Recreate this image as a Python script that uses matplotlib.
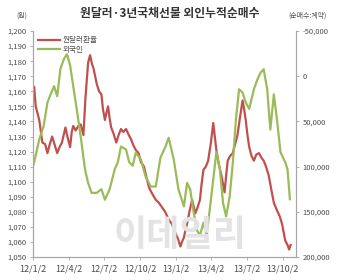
import pandas as pd
import matplotlib
matplotlib.use('Agg')
import matplotlib.pyplot as plt
import matplotlib.ticker as ticker

plt.rcParams['font.family'] = ['Noto Sans CJK KR', 'DejaVu Sans']

# Won/dollar exchange rate (left axis, won)
krw_dates = ['2012-01-02', '2012-01-05', '2012-01-09', '2012-01-13', '2012-01-18', '2012-01-26',
             '2012-02-02', '2012-02-08', '2012-02-14', '2012-02-20', '2012-02-27', '2012-03-04',
             '2012-03-10', '2012-03-16', '2012-03-25', '2012-03-30', '2012-04-06', '2012-04-10',
             '2012-04-14', '2012-04-20', '2012-04-27', '2012-05-03', '2012-05-10', '2012-05-15',
             '2012-05-22', '2012-05-27', '2012-06-01', '2012-06-04', '2012-06-09', '2012-06-13',
             '2012-06-19', '2012-06-25', '2012-06-29', '2012-07-04', '2012-07-08', '2012-07-12',
             '2012-07-16', '2012-07-20', '2012-07-26', '2012-08-02', '2012-08-08', '2012-08-14',
             '2012-08-20', '2012-08-27', '2012-09-03', '2012-09-09', '2012-09-15', '2012-09-21',
             '2012-09-28', '2012-10-04', '2012-10-12', '2012-10-18', '2012-10-25', '2012-11-02',
             '2012-11-11', '2012-11-19', '2012-11-27', '2012-12-05', '2012-12-14', '2012-12-22',
             '2012-12-31', '2013-01-07', '2013-01-13', '2013-01-17', '2013-01-22', '2013-01-26',
             '2013-01-30', '2013-02-05', '2013-02-12', '2013-02-20', '2013-02-26', '2013-03-04',
             '2013-03-08', '2013-03-13', '2013-03-19', '2013-03-25', '2013-04-01', '2013-04-07',
             '2013-04-11', '2013-04-15', '2013-04-21', '2013-04-28', '2013-05-06', '2013-05-10',
             '2013-05-14', '2013-05-20', '2013-05-27', '2013-06-03', '2013-06-08', '2013-06-14',
             '2013-06-21', '2013-06-25', '2013-06-29', '2013-07-04', '2013-07-08', '2013-07-14',
             '2013-07-20', '2013-07-26', '2013-08-02', '2013-08-08', '2013-08-14', '2013-08-20',
             '2013-08-27', '2013-09-03', '2013-09-09', '2013-09-17', '2013-09-24', '2013-09-30',
             '2013-10-08', '2013-10-14', '2013-10-18', '2013-10-22']
krw_values = [1160, 1163, 1150, 1146, 1141, 1126,
              1125, 1119, 1125, 1130, 1124, 1119,
              1123, 1126, 1136, 1130, 1123, 1133,
              1137, 1134, 1137, 1138, 1131, 1155,
              1179, 1184, 1178, 1176, 1170, 1165,
              1160, 1158, 1148, 1141, 1146, 1150,
              1142, 1136, 1132, 1126, 1131, 1135,
              1133, 1135, 1131, 1128, 1124, 1121,
              1119, 1113, 1110, 1103, 1096, 1092,
              1088, 1086, 1083, 1080, 1075, 1072,
              1066, 1062, 1057, 1060, 1063, 1068,
              1072, 1080, 1088, 1079, 1083, 1088,
              1098, 1108, 1110, 1114, 1126, 1139,
              1130, 1121, 1112, 1104, 1093, 1104,
              1114, 1117, 1119, 1126, 1131, 1142,
              1154, 1148, 1141, 1130, 1123, 1117,
              1114, 1118, 1119, 1116, 1114, 1110,
              1104, 1094, 1086, 1081, 1077, 1072,
              1061, 1058, 1055, 1058]

# Foreign cumulative net buying of 3yr bond futures (right axis, contracts)
frn_dates = ['2012-01-02', '2012-01-05', '2012-01-18', '2012-01-29', '2012-02-08', '2012-02-16',
             '2012-02-25', '2012-03-04', '2012-03-12', '2012-03-21', '2012-03-29', '2012-04-06',
             '2012-04-14', '2012-04-23', '2012-05-05', '2012-05-14', '2012-05-22', '2012-05-31',
             '2012-06-13', '2012-06-25', '2012-07-04', '2012-07-16', '2012-07-29', '2012-08-06',
             '2012-08-14', '2012-08-27', '2012-09-04', '2012-09-13', '2012-09-21', '2012-10-04',
             '2012-10-16', '2012-10-29', '2012-11-11', '2012-11-23', '2012-12-06', '2012-12-14',
             '2012-12-27', '2013-01-08', '2013-01-22', '2013-01-30', '2013-02-07', '2013-02-16',
             '2013-02-24', '2013-03-04', '2013-03-13', '2013-03-21', '2013-03-30', '2013-04-07',
             '2013-04-15', '2013-04-24', '2013-05-02', '2013-05-10', '2013-05-19', '2013-05-27',
             '2013-06-04', '2013-06-12', '2013-06-21', '2013-06-29', '2013-07-08', '2013-07-20',
             '2013-07-29', '2013-08-06', '2013-08-14', '2013-08-23', '2013-08-31', '2013-09-09',
             '2013-09-17', '2013-09-26', '2013-10-08', '2013-10-14', '2013-10-20']
frn_values = [100000, 95000, 70000, 55500, 29000, 20000,
              11000, 22000, -8000, -19000, -24500, -12000,
              11000, 36700, 73000, 103000, 118000, 129000,
              129000, 125000, 136600, 125000, 103000, 95000,
              77700, 81000, 95000, 99000, 84400, 92000,
              111000, 122000, 122000, 90000, 77700, 68000,
              92000, 125000, 144000, 118000, 125000, 151000,
              170000, 176000, 162000, 176000, 144000, 114000,
              84000, 103000, 140000, 155000, 133000, 96000,
              47800, 14400, 18000, 29000, 36000, 14400,
              3300, -4000, -7800, 14400, 59000, 20000,
              48000, 84000, 95000, 103000, 136000]

tick_dates = ['2012-01-02', '2012-04-02', '2012-07-02', '2012-10-02',
              '2013-01-02', '2013-04-02', '2013-07-02', '2013-10-02']
tick_labels = ['12/1/2', '12/4/2', '12/7/2', '12/10/2', '13/1/2', '13/4/2', '13/7/2', '13/10/2']

red = '#c0504d'
green = '#9bbb59'
txt = '#4d4d4d'
grey = '#a6a6a6'

fig = plt.figure(figsize=(3.4, 2.8), dpi=100)
ax = fig.add_axes([0.097, 0.082, 0.774, 0.807])
ax2 = ax.twinx()

# Watermark behind the lines
fig.text(0.53, 0.16, '이데일리', ha='center', va='center', fontsize=26, fontweight='bold',
         color='#e3e3e3', zorder=0)

ax.plot(pd.to_datetime(krw_dates), krw_values, color=red, linewidth=1.6, label='원달러환율')
ax2.plot(pd.to_datetime(frn_dates), frn_values, color=green, linewidth=1.6, label='외국인')

ax.set_xlim(pd.Timestamp('2012-01-02'), pd.Timestamp('2013-11-05'))
ax.set_ylim(1050, 1200)
ax.yaxis.set_major_locator(ticker.MultipleLocator(10))
ax.yaxis.set_major_formatter(ticker.FuncFormatter(lambda v, p: f'{v:,.0f}'))
ax2.set_ylim(200000, -50000)
ax2.yaxis.set_major_locator(ticker.MultipleLocator(50000))
ax2.yaxis.set_major_formatter(ticker.FuncFormatter(lambda v, p: f'{v:,.0f}'))

ax.set_xticks(pd.to_datetime(tick_dates))
ax.set_xticklabels(tick_labels)

for a in (ax, ax2):
    a.patch.set_visible(False)
    a.spines['top'].set_visible(False)
    for s in ('left', 'right', 'bottom'):
        a.spines[s].set_color(grey)
        a.spines[s].set_linewidth(0.8)
    a.tick_params(labelsize=5.5, colors=grey, labelcolor=txt, length=2.5, width=0.6, pad=2)
ax.tick_params(axis='x', labelsize=6.5, pad=3)

# Legend
h1, l1 = ax.get_legend_handles_labels()
h2, l2 = ax2.get_legend_handles_labels()
leg = ax.legend(h1 + h2, l1 + l2, loc='upper left', bbox_to_anchor=(0.0, 1.0), frameon=False,
                fontsize=5.5, handlelength=2.8, handletextpad=0.4, labelspacing=0.2,
                borderaxespad=0.3)
for t in leg.get_texts():
    t.set_color(txt)

fig.text(0.5, 0.95, '원달러·3년국채선물 외인누적순매수', ha='center', va='center',
         fontsize=8.5, fontweight='bold', color='#333333')
fig.text(0.065, 0.945, '(원)', ha='center', va='center', fontsize=5, color=txt)
fig.text(0.905, 0.945, '(순매수:계약)', ha='center', va='center', fontsize=5, color=txt)

fig.savefig('out.png', dpi=100)
